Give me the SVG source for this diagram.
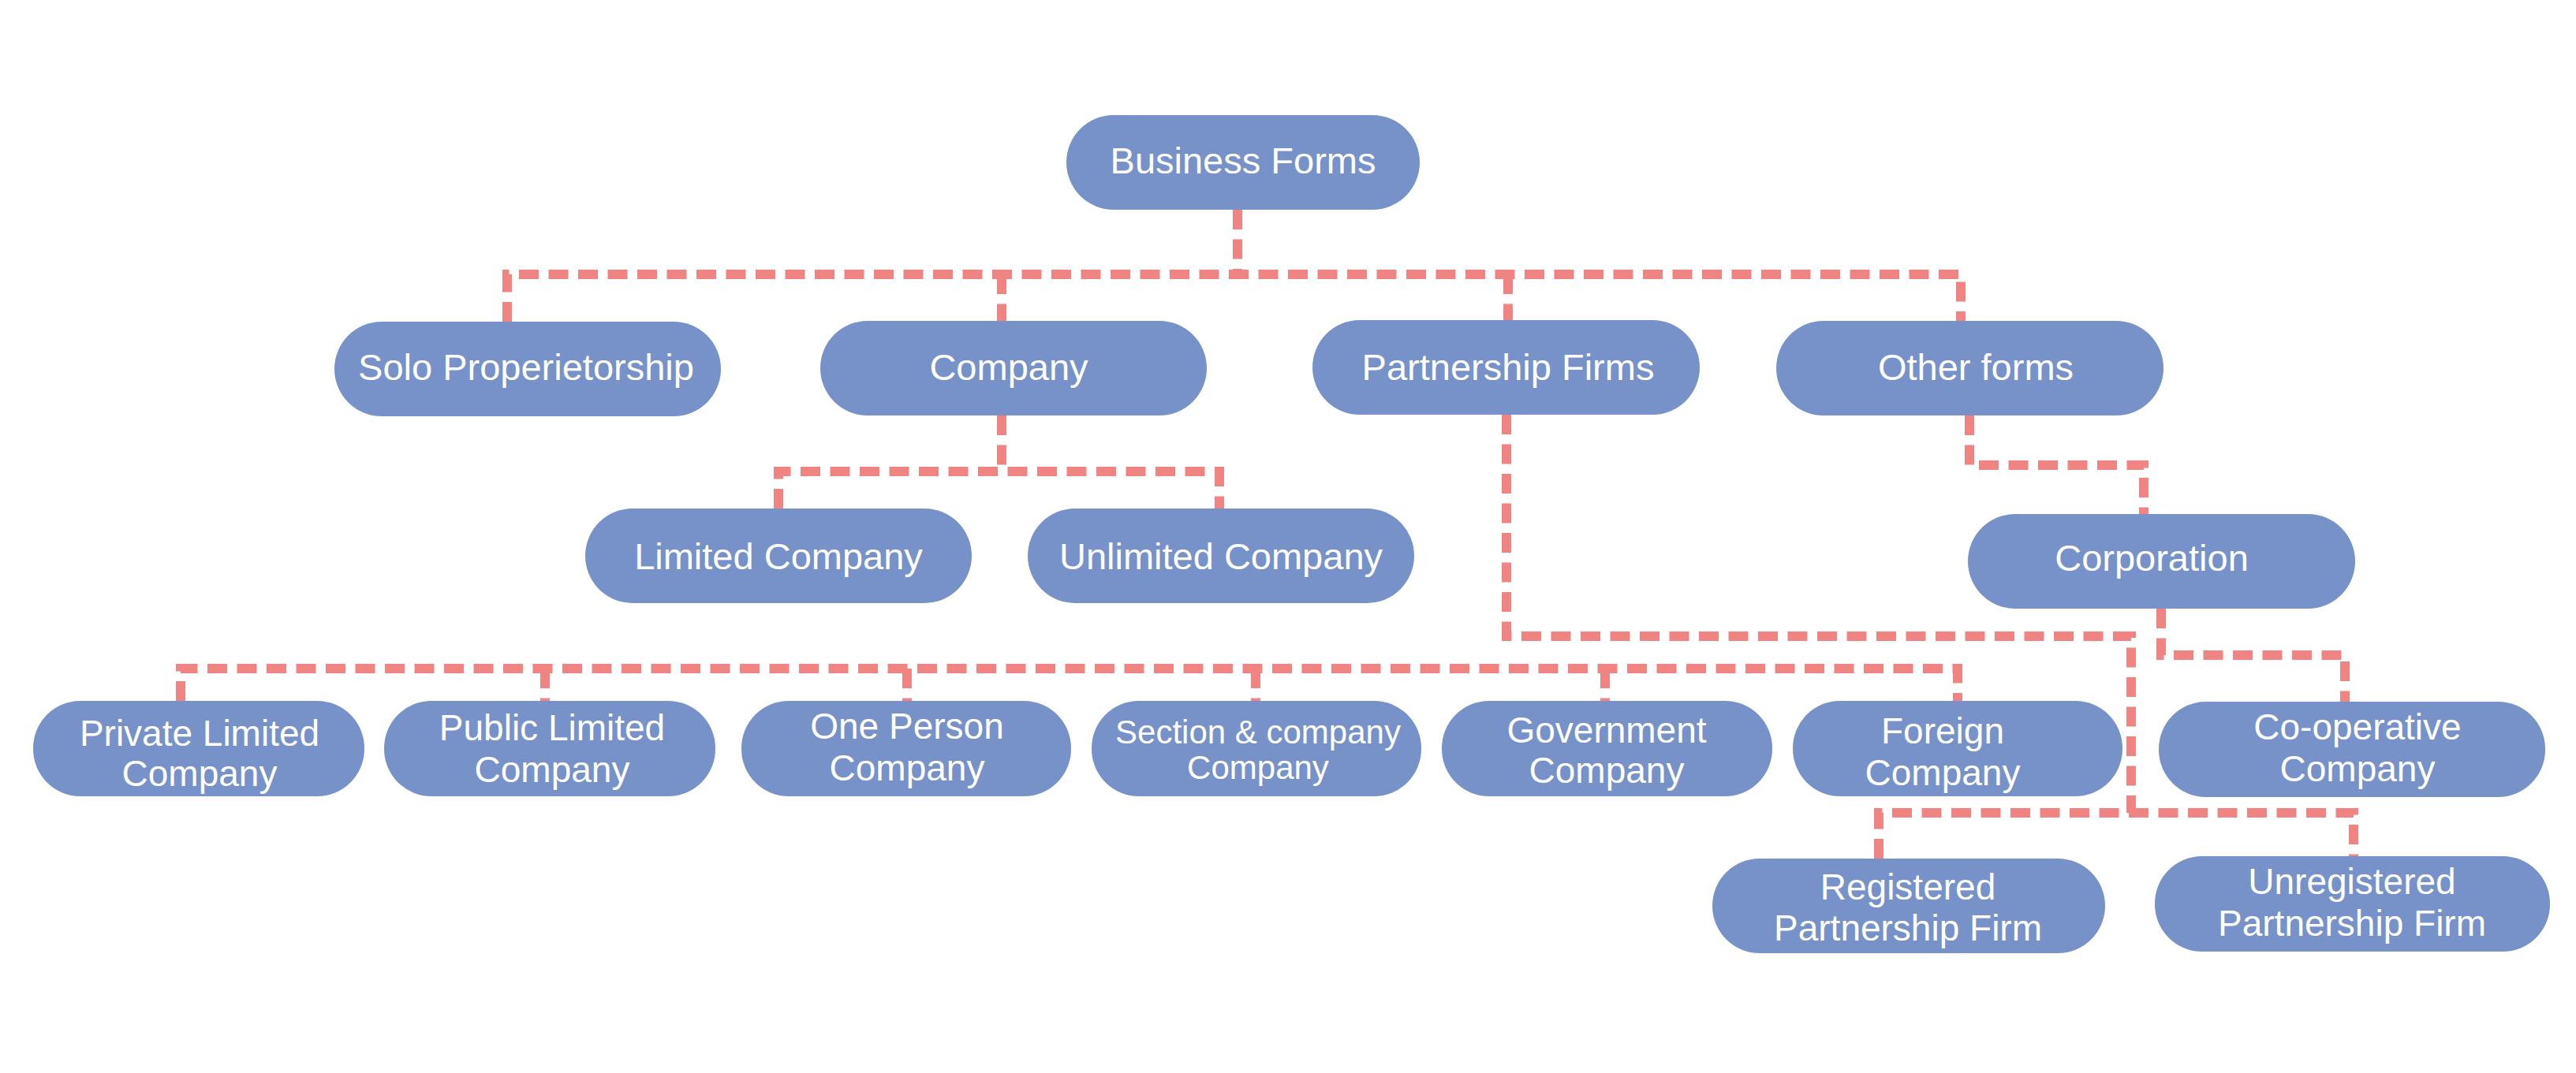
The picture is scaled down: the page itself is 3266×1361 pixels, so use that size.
<svg xmlns="http://www.w3.org/2000/svg" width="3266" height="1361" viewBox="0 0 3266 1361">
<style>
.box{fill:#7692C9}
.t{font-family:"Liberation Sans",Arial,sans-serif;font-size:47px;fill:#FFFFFF;text-anchor:middle}
.t2{font-family:"Liberation Sans",Arial,sans-serif;font-size:46px;fill:#FFFFFF;text-anchor:middle}
.t3{font-family:"Liberation Sans",Arial,sans-serif;font-size:42px;fill:#FFFFFF;text-anchor:middle}
.c{fill:none;stroke:#EF8482;stroke-width:12;stroke-dasharray:25 12.5}
</style>
<rect width="3266" height="1361" fill="#FFFFFF"/>
<g id="connectors">
<path class="c" d="M1569,266 V348"/>
<path class="c" d="M643,408 V348 H2486 V407"/>
<path class="c" d="M1270,348 V407"/>
<path class="c" d="M1912,348 V406"/>
<path class="c" d="M1270,527 V598"/>
<path class="c" d="M987,645 V598 H1546 V645"/>
<path class="c" d="M2497,527 V590 H2718 V652"/>
<path class="c" d="M1910,526 V807 H2702 V1031"/>
<path class="c" d="M2382,1089 V1031 H2984 V1086"/>
<path class="c" d="M2740,772 V831 H2973 V890"/>
<path class="c" d="M229,889 V848 H2482 V889"/>
<path class="c" d="M691,848 V889"/>
<path class="c" d="M1150,848 V889"/>
<path class="c" d="M1592,848 V889"/>
<path class="c" d="M2035,848 V889"/>
</g>
<g id="business-forms"><rect class="box" x="1352" y="146" width="448" height="120" rx="60"/><text class="t" x="1576" y="220">Business Forms</text></g>
<g id="solo"><rect class="box" x="424" y="408" width="490" height="120" rx="60"/><text class="t" x="667" y="482">Solo Properietorship</text></g>
<g id="company"><rect class="box" x="1040" y="407" width="490" height="120" rx="60"/><text class="t" x="1279" y="482">Company</text></g>
<g id="partnership"><rect class="box" x="1664" y="406" width="491" height="120" rx="60"/><text class="t" x="1912" y="482">Partnership Firms</text></g>
<g id="other-forms"><rect class="box" x="2252" y="407" width="491" height="120" rx="60"/><text class="t" x="2505" y="482">Other forms</text></g>
<g id="limited"><rect class="box" x="742" y="645" width="490" height="120" rx="60"/><text class="t" x="987" y="722">Limited Company</text></g>
<g id="unlimited"><rect class="box" x="1303" y="645" width="490" height="120" rx="60"/><text class="t" x="1548" y="722">Unlimited Company</text></g>
<g id="corporation"><rect class="box" x="2495" y="652" width="491" height="120" rx="60"/><text class="t" x="2728" y="724">Corporation</text></g>
<g id="private"><rect class="box" x="42" y="889" width="420" height="121" rx="60"/><text class="t2" x="253" y="946">Private Limited</text><text class="t2" x="253" y="997">Company</text></g>
<g id="public"><rect class="box" x="487" y="889" width="420" height="121" rx="60"/><text class="t2" x="700" y="939">Public Limited</text><text class="t2" x="700" y="992">Company</text></g>
<g id="one-person"><rect class="box" x="940" y="889" width="418" height="121" rx="60"/><text class="t2" x="1150" y="937">One Person</text><text class="t2" x="1150" y="990">Company</text></g>
<g id="section"><rect class="box" x="1384" y="889" width="418" height="121" rx="60"/><text class="t3" x="1595" y="943">Section &amp; company</text><text class="t3" x="1595" y="988">Company</text></g>
<g id="government"><rect class="box" x="1828" y="889" width="419" height="121" rx="60"/><text class="t2" x="2037" y="942">Government</text><text class="t2" x="2037" y="993">Company</text></g>
<g id="foreign"><rect class="box" x="2273" y="889" width="418" height="121" rx="60"/><text class="t2" x="2463" y="943">Foreign</text><text class="t2" x="2463" y="996">Company</text></g>
<g id="co-operative"><rect class="box" x="2737" y="890" width="490" height="121" rx="60"/><text class="t2" x="2989" y="938">Co-operative</text><text class="t2" x="2989" y="991">Company</text></g>
<g id="registered"><rect class="box" x="2171" y="1089" width="498" height="120" rx="60"/><text class="t2" x="2419" y="1141">Registered</text><text class="t2" x="2419" y="1193">Partnership Firm</text></g>
<g id="unregistered"><rect class="box" x="2732" y="1086" width="501" height="121" rx="60"/><text class="t2" x="2982" y="1134">Unregistered</text><text class="t2" x="2982" y="1187">Partnership Firm</text></g>
</svg>
